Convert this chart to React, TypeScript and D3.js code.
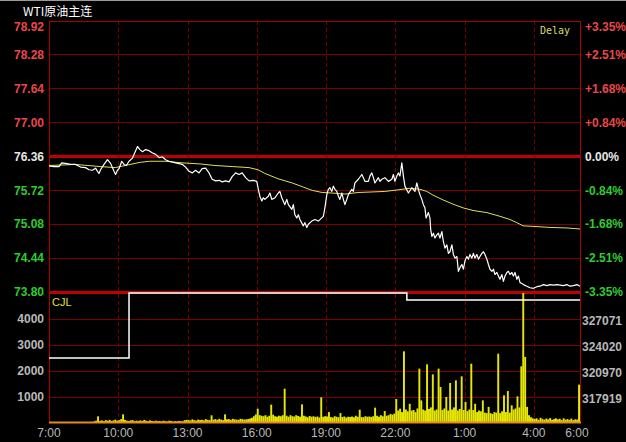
import React from "react";
import * as d3 from "d3";

// ---------- data ----------
const title = "WTI原油主连";
const prevClose = 76.36;

const priceTicks = [78.92, 78.28, 77.64, 77.0, 76.36, 75.72, 75.08, 74.44, 73.8];
const pctLabels = ["+3.35%", "+2.51%", "+1.68%", "+0.84%", "0.00%", "-0.84%", "-1.68%", "-2.51%", "-3.35%"];
const volTicks = [1000, 2000, 3000, 4000];
const oiTicks = [317919, 320970, 324020, 327071];
const timeTickMinutes = [0, 180, 360, 540, 720, 900, 1080, 1260, 1380];
const timeTickLabels = ["7:00", "10:00", "13:00", "16:00", "19:00", "22:00", "1:00", "4:00", "6:00"];

// minutes after 7:00
const priceMinutes = [
  0, 13, 26, 33, 43, 56, 69, 82, 95, 104, 113, 121, 126, 130, 134, 143, 152, 160, 169, 173, 178, 182, 189, 195, 201, 208,
  217, 224, 230, 236, 243, 251, 260, 268, 277, 286, 295, 303, 312, 329, 347, 355, 364, 372, 381, 390, 398, 407, 416, 424,
  433, 442, 450, 459, 468, 476, 485, 494, 502, 511, 520, 531, 540, 544, 548, 553, 557, 561, 570, 574, 579, 587, 596, 600,
  605, 613, 618, 622, 631, 635, 639, 644, 648, 652, 661, 665, 670, 674, 683, 691, 700, 709, 713, 717, 722, 726, 730, 735,
  739, 743, 748, 752, 756, 761, 765, 769, 774, 778, 787, 791, 795, 804, 813, 817, 821, 830, 834, 839, 843, 847, 856, 860,
  865, 873, 882, 891, 895, 899, 904, 908, 912, 917, 921, 925, 934, 943, 951, 956, 960, 964, 969, 973, 977, 980, 986, 990,
  992, 995, 999, 1003, 1008, 1012, 1016, 1021, 1025, 1029, 1034, 1038, 1042, 1047, 1051, 1055, 1060, 1064, 1068, 1073,
  1077, 1081, 1086, 1090, 1094, 1099, 1103, 1107, 1112, 1116, 1120, 1125, 1129, 1133, 1138, 1142, 1146, 1151, 1155, 1159,
  1164, 1168, 1172, 1177, 1181, 1185, 1190, 1194, 1198, 1203, 1207, 1211, 1216, 1220, 1224, 1233, 1242, 1250, 1259, 1268,
  1276, 1285, 1294, 1302, 1311, 1320, 1328, 1337, 1346, 1354, 1363, 1372, 1380,
];
const prices = [
  76.18, 76.17, 76.17, 76.24, 76.23, 76.21, 76.21, 76.16, 76.15, 76.11, 76.1, 76.14, 76.08, 76.04, 76.11, 76.21, 76.3, 76.23,
  76.08, 76.02, 76.1, 76.13, 76.27, 76.21, 76.19, 76.27, 76.33, 76.45, 76.55, 76.49, 76.45, 76.49, 76.47, 76.43, 76.4, 76.34,
  76.35, 76.3, 76.27, 76.24, 76.21, 76.16, 76.08, 76.05, 76.1, 76.05, 76.13, 76.14, 76.05, 75.93, 75.9, 75.91, 75.88, 75.9,
  75.88, 75.98, 76.05, 76.02, 76.05, 75.96, 75.9, 75.91, 75.89, 75.74, 75.61, 75.52, 75.58, 75.55, 75.61, 75.67, 75.55,
  75.58, 75.67, 75.7, 75.58, 75.45, 75.55, 75.45, 75.36, 75.45, 75.26, 75.2, 75.26, 75.17, 75.05, 75.11, 75.02, 75.08,
  75.14, 75.17, 75.14, 75.2, 75.23, 75.39, 75.64, 75.74, 75.77, 75.7, 75.8, 75.74, 75.7, 75.61, 75.55, 75.67, 75.55, 75.45,
  75.55, 75.64, 75.74, 75.7, 75.86, 75.93, 76.02, 75.96, 75.89, 75.89, 75.99, 76.05, 75.96, 75.86, 75.96, 75.89, 75.93,
  75.96, 75.89, 75.93, 76.02, 75.89, 75.99, 76.05, 75.99, 76.24, 75.99, 75.8, 75.67, 75.77, 75.7, 75.86, 75.74, 75.64,
  75.55, 75.45, 75.39, 75.2, 75.3, 75.2, 74.98, 74.85, 74.91, 74.82, 74.88, 74.91, 74.82, 74.94, 74.75, 74.63, 74.69,
  74.53, 74.56, 74.69, 74.51, 74.44, 74.47, 74.19, 74.26, 74.32, 74.23, 74.39, 74.47, 74.42, 74.51, 74.44, 74.53, 74.44,
  74.51, 74.42, 74.47, 74.53, 74.56, 74.51, 74.42, 74.32, 74.23, 74.19, 74.23, 74.13, 74.17, 74.1, 74.04, 74.13, 74.0,
  74.1, 74.17, 74.19, 74.13, 74.17, 74.1, 74.17, 74.04, 74.1, 73.98, 73.94, 73.91, 73.88, 73.87, 73.9, 73.91, 73.94,
  73.92, 73.94, 73.93, 73.94, 73.93, 73.92, 73.94, 73.91, 73.92, 73.94, 73.91,
];

const avgMinutes = [
  0, 68, 133, 172, 198, 237, 262, 302, 346, 392, 431, 476, 520, 543, 561, 595, 632, 658, 684, 710, 736, 769, 803, 839, 873,
  907, 938, 964, 982, 998, 1024, 1050, 1076, 1102, 1138, 1172, 1198, 1216, 1232, 1258, 1302, 1346, 1380,
];
const avgPrices = [
  76.19, 76.21, 76.17, 76.15, 76.19, 76.25, 76.27, 76.27, 76.24, 76.22, 76.19, 76.17, 76.15, 76.11, 76.04, 75.94, 75.86,
  75.79, 75.72, 75.68, 75.67, 75.65, 75.68, 75.69, 75.7, 75.73, 75.76, 75.74, 75.7, 75.63, 75.54, 75.46, 75.39, 75.34,
  75.3, 75.23, 75.17, 75.11, 75.05, 75.04, 75.02, 75.01, 74.99,
];

// volume per 5-minute bin, one row per hour starting 7:00
const volume5min = [
  20, 10, 30, 15, 10, 40, 10, 20, 15, 30, 10, 20,
  15, 30, 10, 20, 40, 15, 10, 25, 30, 10, 20, 60,
  90, 256, 80, 100, 70, 110, 90, 120, 80, 100, 130, 90,
  110, 150, 333, 120, 90, 80, 100, 110, 70, 90, 80, 100,
  80, 120, 90, 70, 100, 80, 60, 90, 70, 80, 60, 90,
  70, 60, 90, 80, 50, 70, 60, 80, 70, 60, 110, 120,
  120, 100, 140, 110, 90, 130, 110, 120, 100, 150, 120, 110,
  295, 130, 150, 120, 160, 130, 110, 333, 140, 150, 120, 160,
  140, 130, 120, 160, 150, 130, 140, 150, 170, 200, 260, 330,
  550, 300, 280, 260, 300, 240, 280, 705, 320, 260, 240, 280,
  260, 300, 1320, 280, 240, 300, 260, 250, 300, 270, 240, 718,
  280, 250, 220, 270, 240, 260, 230, 250, 210, 987, 240, 260,
  250, 420, 230, 210, 260, 240, 220, 380, 230, 250, 210, 240,
  230, 250, 220, 280, 240, 510, 230, 220, 260, 240, 250, 230,
  260, 590, 280, 240, 300, 260, 460, 280, 300, 350, 320, 360,
  923, 480, 550, 420, 2756, 520, 450, 740, 480, 500, 420, 560,
  2090, 870, 520, 480, 2256, 540, 600, 1870, 480, 520, 2090, 1385,
  500, 560, 1000, 480, 1540, 520, 600, 1640, 480, 540, 1795, 500,
  810, 460, 520, 2280, 500, 740, 420, 480, 450, 870, 400, 380,
  620, 380, 350, 420, 400, 2667, 380, 450, 1064, 420, 1230, 400,
  680, 520, 560, 1025, 600, 2180, 5000, 2540, 620, 300, 220, 180,
  160, 180, 120, 200, 150, 130, 170, 140, 190, 120, 150, 180,
  140, 160, 110, 180, 130, 150, 120, 170, 110, 140, 130, 1475,
];

// open interest (CJL) steps
const oiMinutes = [0, 208, 930, 1380];
const oiValues = [322495, 330121, 329300, 329300];

// ---------- layout ----------
const W = 626;
const H = 442;
const L = 49;
const R = 580;
const PT = 21;
const PB = 292;
const VB = 423;
const VT = 293;

const RED = "#e84848";
const GREEN = "#2ecc2e";
const WHITE = "#e8e8e8";
const GRAY = "#b8b8b8";
const GRID = "#7a0000";
const FONT = "'Liberation Sans', Arial, sans-serif";

export default function App() {
  const x = d3.scaleLinear().domain([0, 1380]).range([L, R]);
  const y = d3.scaleLinear().domain([73.8, 78.92]).range([PB, PT]);
  const yv = d3.scaleLinear().domain([0, 5000]).range([VB, VT]);
  const yoi = d3
    .scaleLinear()
    .domain([oiTicks[0] - (oiTicks[1] - oiTicks[0]), oiTicks[3] + (oiTicks[1] - oiTicks[0])])
    .range([VB, VT]);

  const priceLine = d3
    .line<number>()
    .x((_, i) => x(priceMinutes[i]))
    .y((d) => y(d))(prices);
  const avgLine = d3
    .line<number>()
    .x((_, i) => x(avgMinutes[i]))
    .y((d) => y(d))(avgPrices);
  const oiLine = d3
    .line<number>()
    .curve(d3.curveStepAfter)
    .x((_, i) => x(oiMinutes[i]))
    .y((d) => yoi(d))(oiValues);

  const priceColor = (p: number) => (Math.abs(p - prevClose) < 1e-6 ? WHITE : p > prevClose ? RED : GREEN);

  return (
    <svg
      width={W}
      height={H}
      style={{ position: "absolute", left: 0, top: 0, background: "#000", display: "block" }}
      fontFamily={FONT}
    >
      <rect x={0} y={0} width={W} height={H} fill="#000" />
      <rect x={0} y={0} width={W} height={1} fill="#9a9a9a" />

      {/* horizontal price grid */}
      {priceTicks.map((p, i) => {
        const yy = y(p);
        const thick = i === 4 || i === 8;
        if (i === 0) return null;
        return (
          <line
            key={"pg" + i}
            x1={L}
            x2={R}
            y1={yy}
            y2={yy}
            stroke={thick ? "#c00000" : GRID}
            strokeWidth={thick ? 3 : 1}
            shapeRendering="crispEdges"
          />
        );
      })}
      {/* volume grid */}
      {volTicks.map((v) => (
        <line key={"vg" + v} x1={L} x2={R} y1={yv(v)} y2={yv(v)} stroke={GRID} strokeWidth={1} shapeRendering="crispEdges" />
      ))}
      {/* vertical dashed lines */}
      {timeTickMinutes.slice(1, -1).map((m) => (
        <line
          key={"vx" + m}
          x1={Math.round(x(m)) + 0.5}
          x2={Math.round(x(m)) + 0.5}
          y1={PT}
          y2={VB - 1}
          stroke={GRID}
          strokeDasharray="4,3"
          strokeWidth={1}
        />
      ))}

      {/* volume bars */}
      {volume5min.map((v, i) => {
        const x0 = x(i * 5);
        const x1 = x(i * 5 + 5);
        return <rect key={"vb" + i} x={x0} y={yv(v)} width={Math.max(1, x1 - x0)} height={VB - yv(v)} fill="#e6e600" />;
      })}

      {/* borders */}
      <line x1={L} x2={R} y1={PT + 0.5} y2={PT + 0.5} stroke="#a00000" strokeWidth={1} />
      <line x1={L + 0.5} x2={L + 0.5} y1={PT} y2={VB} stroke="#b00000" strokeWidth={1} />
      <line x1={R + 0.5} x2={R + 0.5} y1={PT} y2={VB} stroke="#b00000" strokeWidth={1} />
      <line x1={L} x2={R + 1} y1={VB - 0.5} y2={VB - 0.5} stroke="#e88a20" strokeWidth={2} />

      {/* open interest */}
      <path d={oiLine ?? ""} fill="none" stroke="#ffffff" strokeWidth={1.5} />

      {/* avg & price */}
      <path d={avgLine ?? ""} fill="none" stroke="#dede5a" strokeWidth={1} />
      <path d={priceLine ?? ""} fill="none" stroke="#ffffff" strokeWidth={1.2} strokeLinejoin="round" />

      {/* left price labels */}
      {priceTicks.map((p, i) => (
        <text
          key={"pl" + i}
          x={44}
          y={Math.max(y(p), 27)}
          dy="0.35em"
          textAnchor="end"
          fontSize={12}
          fontWeight="bold"
          fill={priceColor(p)}
        >
          {p.toFixed(2)}
        </text>
      ))}
      {/* right pct labels */}
      {pctLabels.map((t, i) => (
        <text
          key={"pr" + i}
          x={585}
          y={Math.max(y(priceTicks[i]), 27)}
          dy="0.35em"
          textAnchor="start"
          fontSize={12}
          fontWeight="bold"
          fill={priceColor(priceTicks[i])}
        >
          {t}
        </text>
      ))}
      {/* volume labels */}
      {volTicks.map((v) => (
        <text key={"vl" + v} x={44} y={yv(v)} dy="0.35em" textAnchor="end" fontSize={12} fontWeight="bold" fill={GRAY}>
          {v}
        </text>
      ))}
      {oiTicks.map((v) => (
        <text key={"ol" + v} x={582} y={yoi(v) + 2} dy="0.35em" textAnchor="start" fontSize={12} fontWeight="bold" fill={GRAY}>
          {v}
        </text>
      ))}
      {/* time labels */}
      {timeTickMinutes.map((m, i) => (
        <text
          key={"tl" + i}
          x={i === timeTickMinutes.length - 1 ? x(m) - 3 : x(m)}
          y={433}
          dy="0.35em"
          textAnchor="middle"
          fontSize={12}
          fill={GRAY}
        >
          {timeTickLabels[i]}
        </text>
      ))}

      {/* texts */}
      <text x={23} y={12} dy="0.35em" fontSize={12} fill="#ffffff" fontFamily="'Noto Sans CJK SC', 'Liberation Sans', sans-serif">
        {title}
      </text>
      <text x={540} y={30} dy="0.35em" fontSize={10} fill="#d8d868" fontFamily="'DejaVu Sans Mono', monospace">
        Delay
      </text>
      <text x={52} y={302} dy="0.35em" fontSize={11} fill="#e0e040">
        CJL
      </text>
    </svg>
  );
}
